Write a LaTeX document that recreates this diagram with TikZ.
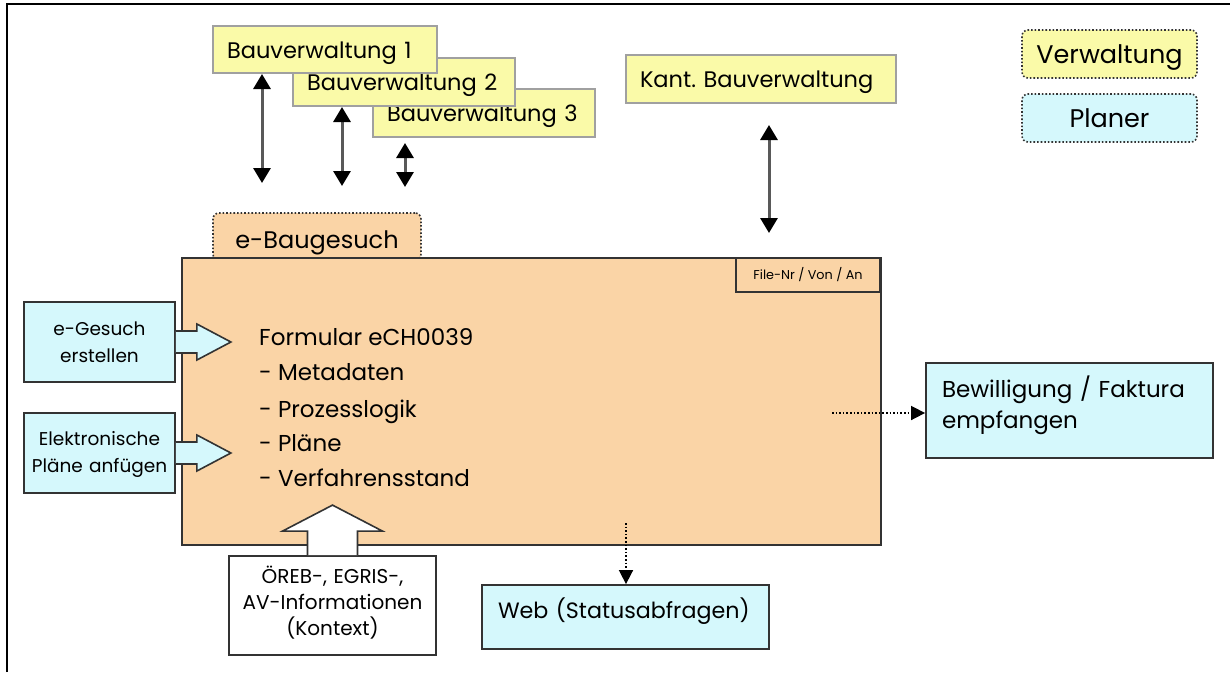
\documentclass[tikz,border=0pt]{standalone}
\usepackage{fontspec}
\setmainfont{Poppins}
\usetikzlibrary{arrows.meta,calc}
\definecolor{yel}{HTML}{FAFAA8}
\definecolor{cya}{HTML}{D5F8FC}
\definecolor{ora}{HTML}{FAD4A6}
\definecolor{edge}{HTML}{333333}
\definecolor{ygray}{HTML}{A0A0A0}
\newcommand{\fs}[2]{\fontsize{#1}{#2}\selectfont}
\tikzset{
  ybox/.style={draw=ygray, line width=1.3pt, fill=yel, inner ysep=0pt, inner xsep=14pt, align=left,
    font=\fs{22.5}{26}, text height=17pt, text depth=0pt},
  cbox/.style={draw=edge, line width=1.8pt, fill=cya, inner sep=0pt},
  legbox/.style={draw=edge, dotted, line width=1.6pt, rounded corners=6pt, inner sep=0pt},
  dblarrow/.style={draw=black!65, line width=3pt, {Triangle[length=15pt,width=17pt,color=black]}-{Triangle[length=15pt,width=17pt,color=black]}},
  dotarrow/.style={draw=black, dotted, line width=1.6pt, -{Triangle[length=14pt,width=14pt]}},
  blockarr/.style={draw=edge, line width=1.6pt, line join=miter},
  ftext/.style={anchor=base west, inner sep=0pt, font=\fs{23}{26}},
}
\begin{document}
\begin{tikzpicture}[x=1pt,y=-1pt]
\useasboundingbox (0,0) rectangle (1230,672);
% frame
\draw[line width=2.8pt] (7,672) -- (7,4) -- (1230,4);

% Bauverwaltungen
\node[ybox, text width=194pt, minimum height=48pt] (bv3) at (484,113) {Bauverwaltung 3};
\node[ybox, text width=194pt, minimum height=48pt] (bv2) at (404,82) {Bauverwaltung 2};
\node[ybox, text width=196pt, minimum height=47pt] (bv1) at (325,49.5) {Bauverwaltung 1};
\node[ybox, text width=242pt, minimum height=48pt] (kbv) at (761,79) {Kant.\ Bauverwaltung};

% legend
\node[legbox, fill=yel, minimum width=175pt, minimum height=48pt, font=\fs{25.5}{28}, text height=18pt, text depth=0pt] (lv) at (1109.5,54) {Verwaltung};
\node[legbox, fill=cya, minimum width=175pt, minimum height=48pt, font=\fs{25.5}{28}, text height=18pt, text depth=0pt] (lp) at (1109.5,118) {Planer};

% tab + main box
\node[legbox, fill=ora, minimum width=208pt, minimum height=47pt, font=\fs{24}{26}, text height=24pt, text depth=1pt] (tab) at (317,236.5) {e-Baugesuch};
\node[draw=edge, line width=1.8pt, fill=ora, minimum width=699pt, minimum height=287pt, inner sep=0pt] (main) at (531.5,401.5) {};
\node[draw=edge, line width=1.8pt, fill=ora, minimum width=144pt, minimum height=34pt, inner sep=0pt, font=\fs{12.8}{14}] (file) at (808,275) {File-Nr / Von / An};

% main text
\node[ftext] (f1) at (259,345) {Formular eCH0039};
\node[ftext] (f2) at (259,380) {- Metadaten};
\node[ftext] (f3) at (259,417) {- Prozesslogik};
\node[ftext] (f4) at (259,451) {- Pläne};
\node[ftext] (f5) at (259,486) {- Verfahrensstand};

% left boxes
\node[cbox, text width=151pt, minimum height=80pt, align=center, font=\fs{18.5}{27}, text height=17pt, text depth=31pt] (eg) at (99.5,342) {e-Gesuch\\erstellen};
\node[cbox, text width=151pt, minimum height=80pt, align=center, font=\fs{18.5}{27}, text height=17pt, text depth=33pt] (ep) at (99.5,453) {Elektronische\\Pläne anfügen};

% block arrows
\draw[blockarr, fill=cya] ($(eg.east)+(0,-11)$) -- ++(21,0) -- ++(0,-7) -- ++(34,18) -- ++(-34,18) -- ++(0,-7) -- ++(-21,0);
\draw[blockarr, fill=cya] ($(ep.east)+(0,-11)$) -- ++(21,0) -- ++(0,-7) -- ++(34,18) -- ++(-34,18) -- ++(0,-7) -- ++(-21,0);

% OEREB box
\node[draw=edge, line width=1.8pt, fill=white, text width=207pt, minimum height=99pt, inner sep=0pt, align=center, font=\fs{20}{26}, text height=17pt, text depth=62pt] (oreb) at (332.5,605.5) {ÖREB-, EGRIS-,\\AV-Informationen\\(Kontext)};
\draw[blockarr, fill=white] ($(oreb.north)+(-25,0)$) -- ++(0,-24) -- ++(-25,0) -- ++(50,-26) -- ++(50,26) -- ++(-25,0) -- ++(0,24);

% right boxes
\node[cbox, text width=255pt, inner xsep=16pt, minimum height=64pt, align=left, font=\fs{22.2}{26}, text height=17pt, text depth=15pt] (web) at (625.5,617) {Web (Statusabfragen)};
\node[cbox, text width=255pt, inner xsep=16pt, minimum height=95pt, align=left, font=\fs{23}{31}, text height=17pt, text depth=44pt] (bew) at (1069.5,410.5) {Bewilligung / Faktura\\empfangen};

% vertical double arrows
\coordinate (a1t) at (262,74); \coordinate (a1b) at (262,183);
\coordinate (a2t) at (342,107); \coordinate (a2b) at (342,186);
\coordinate (a3t) at (405,143); \coordinate (a3b) at (405,187);
\coordinate (a4t) at (769,125); \coordinate (a4b) at (769,233);
\draw[dblarrow] (a1t) -- (a1b);
\draw[dblarrow] (a2t) -- (a2b);
\draw[dblarrow] (a3t) -- (a3b);
\draw[dblarrow] (a4t) -- (a4b);

% dotted arrows
\coordinate (d1) at (832,413);
\draw[dotarrow] (d1) -- (d1 -| bew.west);
\coordinate (d2) at (626,523);
\draw[dotarrow] (d2) -- (d2 |- web.north);
\end{tikzpicture}
\end{document}
